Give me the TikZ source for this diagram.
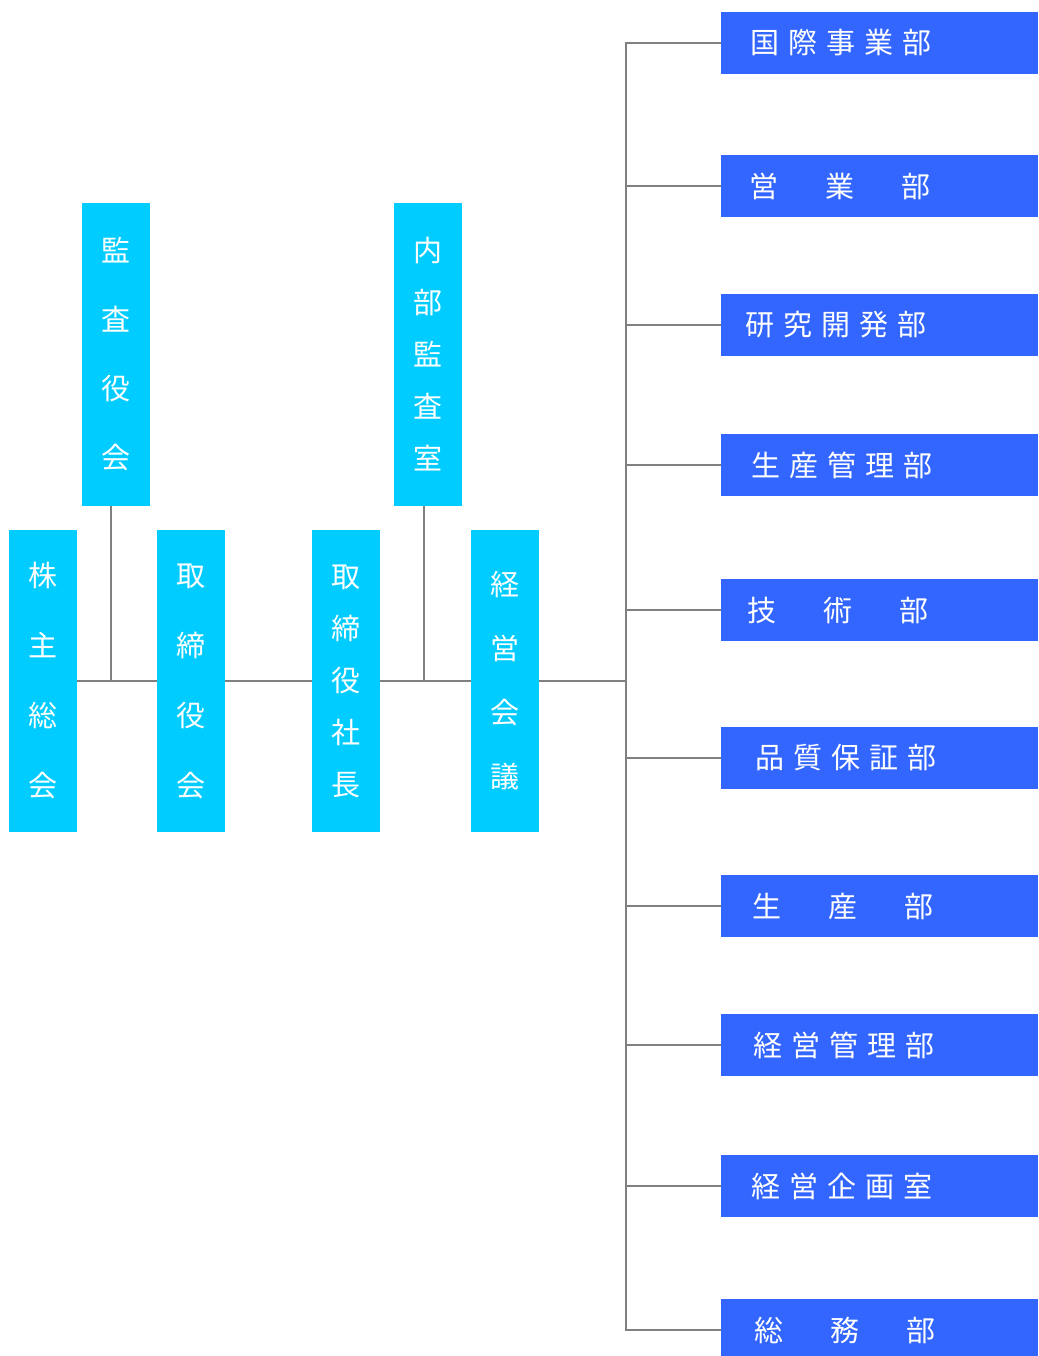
\documentclass[tikz,border=0pt]{standalone}
\usepackage{fontspec}
\newfontfamily\cjk{Noto Sans CJK JP}
\definecolor{cy}{HTML}{00CCFF}
\definecolor{bl}{HTML}{3366FF}
\definecolor{ln}{HTML}{808080}
\newcommand\kgap{\hspace{9pt}}
\newcommand\wgap{\hspace{47pt}}
\begin{document}
\begin{tikzpicture}[x=1pt,y=-1pt,
 vbox/.style={fill=cy, text=white, minimum width=68pt, minimum height=302pt, inner sep=0pt, align=center, font=\cjk\fontsize{29}{#1}\selectfont},
 dbox/.style={fill=bl, text=white, minimum height=62pt, inner sep=0pt, text width=317pt, align=left, anchor=west, font=\cjk\fontsize{29}{34}\selectfont},
 conn/.style={draw=ln, line width=2.5pt}]
\useasboundingbox (0,0) rectangle (1038,1356);
\node[vbox=70] (kab) at (43,681) {株\\主\\総\\会};
\node[vbox=70] (tori) at (191,681) {取\\締\\役\\会};
\node[vbox=52] (sha) at (346,681) {取\\締\\役\\社\\長};
\node[vbox=64] (kei) at (505,681) {経\\営\\会\\議};
\node[vbox=69, minimum height=303pt] (kansa) at (115.5,354.5) {監\\査\\役\\会};
\node[vbox=52, minimum height=303pt] (naibu) at (428,354.5) {内\\部\\監\\査\\室};
\node[dbox] (d1) at (721,43) {\hspace*{29pt}国\kgap 際\kgap 事\kgap 業\kgap 部};
\node[dbox] (d2) at (721,186) {\hspace*{28pt}営\wgap 業\wgap 部};
\node[dbox] (d3) at (721,325) {\hspace*{24pt}研\kgap 究\kgap 開\kgap 発\kgap 部};
\node[dbox] (d4) at (721,465) {\hspace*{30pt}生\kgap 産\kgap 管\kgap 理\kgap 部};
\node[dbox] (d5) at (721,610) {\hspace*{26pt}技\wgap 術\wgap 部};
\node[dbox] (d6) at (721,758) {\hspace*{34pt}品\kgap 質\kgap 保\kgap 証\kgap 部};
\node[dbox] (d7) at (721,906) {\hspace*{31pt}生\wgap 産\wgap 部};
\node[dbox] (d8) at (721,1045) {\hspace*{32pt}経\kgap 営\kgap 管\kgap 理\kgap 部};
\node[dbox] (d9) at (721,1186) {\hspace*{30pt}経\kgap 営\kgap 企\kgap 画\kgap 室};
\node[dbox] (d10) at (721,1330) {\hspace*{33pt}総\wgap 務\wgap 部};
\coordinate (j1) at (111,681);
\coordinate (j2) at (424,681);
\coordinate (tk) at (626,681);
\draw[conn] (kab.east) -- (tori.west);
\draw[conn] (tori.east) -- (sha.west);
\draw[conn] (sha.east) -- (kei.west);
\draw[conn] (kei.east) -- (tk);
\draw[conn] (kansa.south -| j1) -- (j1);
\draw[conn] (naibu.south -| j2) -- (j2);
\foreach \n in {1,...,10} \draw[conn] (tk) |- (d\n.west);
\end{tikzpicture}
\end{document}
